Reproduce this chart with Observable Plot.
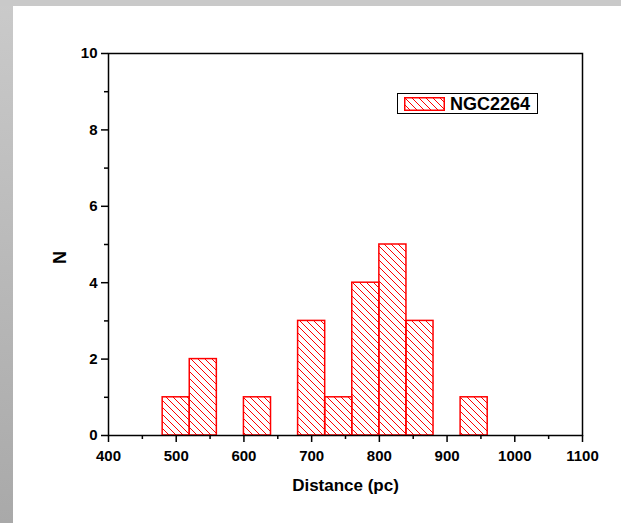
<!DOCTYPE html>
<html>
<head>
<meta charset="utf-8">
<script src="https://cdn.jsdelivr.net/npm/d3@7"></script>
<script src="https://cdn.jsdelivr.net/npm/@observablehq/plot@0.6"></script>
<style>
  html, body { margin: 0; padding: 0; }
  #wrap {
    position: relative; width: 621px; height: 523px; overflow: hidden;
    background: linear-gradient(to bottom, #cacaca, #a9a9a9);
    font-family: "Liberation Sans", Arial, sans-serif;
  }
  #top { position: absolute; left: 0; top: 0; width: 621px; height: 6px; background: #c9c9c9; }
  #panel { position: absolute; left: 13px; top: 6px; width: 608px; height: 517px; background: #fff; }
  #legend {
    position: absolute; left: 384px; top: 87px; width: 139px; height: 19px;
    border: 1px solid #000; background: #fff; box-sizing: content-box;
  }
  #legend svg { position: absolute; left: 6px; top: 3px; }
  #legend span {
    position: absolute; left: 52px; top: 0px; font-size: 18px; font-weight: bold;
    line-height: 20px; color: #000;
  }
</style>
</head>
<body>
<div id="wrap">
  <div id="top"></div>
  <div id="panel"></div>
</div>
<script>
// Histogram bins (distance in pc) and counts
const binStart = [480, 520, 600, 680, 720, 760, 800, 840, 920];
const binEnd   = [520, 560, 640, 720, 760, 800, 840, 880, 960];
const counts   = [1, 2, 1, 3, 1, 4, 5, 3, 1];
const seriesName = "NGC2264";
const xMajor = [400, 500, 600, 700, 800, 900, 1000, 1100];
const xMinor = [450, 550, 650, 750, 850, 950, 1050];
const yMajor = [0, 2, 4, 6, 8, 10];
const yMinor = [1, 3, 5, 7, 9];

const bins = binStart.map((s, i) => ({x1: s, x2: binEnd[i], n: counts[i]}));

const ns = "http://www.w3.org/2000/svg";
const HATCH = 7;      // hatch spacing (px)
const RED = "#ff0000";

// Diagonal ("\") hatch segments clipped to a pixel rectangle
function hatchSegments(X1, X2, Y1, Y2) {
  const segs = [];
  const cMin = Math.floor((X1 - Y2) / HATCH) * HATCH;
  const cMax = Math.ceil((X2 - Y1) / HATCH) * HATCH;
  for (let c = cMin; c <= cMax; c += HATCH) {
    const a = Math.max(X1, Y1 + c), b = Math.min(X2, Y2 + c);
    if (b - a > 0.5) segs.push([a, a - c, b, b - c]);
  }
  return segs;
}
function hatchGroup(segs) {
  const g = document.createElementNS(ns, "g");
  g.setAttribute("stroke", RED);
  g.setAttribute("stroke-width", "1");
  for (const [xa, ya, xb, yb] of segs) {
    const l = document.createElementNS(ns, "line");
    l.setAttribute("x1", xa); l.setAttribute("y1", ya);
    l.setAttribute("x2", xb); l.setAttribute("y2", yb);
    g.appendChild(l);
  }
  return g;
}

const font = "Liberation Sans, Arial, sans-serif";
const chart = Plot.plot({
  width: 608,
  height: 517,
  marginLeft: 95,
  marginRight: 39,
  marginTop: 47,
  marginBottom: 88,
  style: {background: "transparent", fontFamily: font, color: "#000"},
  x: {domain: [400, 1100]},
  y: {domain: [0, 10]},
  marks: [
    Plot.rectY(bins, {
      x1: "x1", x2: "x2", y: "n", fill: "none", stroke: RED, strokeWidth: 1.5,
      render(index, scales, values, dimensions, context, next) {
        const g = next(index, scales, values, dimensions, context);
        const segs = [];
        for (const i of index) {
          const X1 = scales.x(bins[i].x1), X2 = scales.x(bins[i].x2);
          const Y1 = scales.y(bins[i].n), Y2 = scales.y(0);
          segs.push(...hatchSegments(X1, X2, Y1, Y2));
        }
        const wrap = document.createElementNS(ns, "g");
        wrap.appendChild(hatchGroup(segs));
        wrap.appendChild(g);
        return wrap;
      }
    }),
    Plot.frame({stroke: "#000", strokeWidth: 1.5}),
    Plot.axisX({ticks: xMajor, tickFormat: d => String(d), tickSize: 7, tickPadding: 8, fontSize: 15, fontWeight: "bold", label: null, strokeWidth: 1.5}),
    Plot.axisX({ticks: xMinor, tickSize: 4, text: null, label: null, strokeWidth: 1.5}),
    Plot.axisY({ticks: yMajor, tickFormat: d => String(d), tickSize: 7, tickPadding: 4, fontSize: 15, fontWeight: "bold", label: null, strokeWidth: 1.5}),
    Plot.axisY({ticks: yMinor, tickSize: 4, text: null, label: null, strokeWidth: 1.5}),
    Plot.text(["Distance (pc)"], {frameAnchor: "bottom", dy: 50, text: d => d, fontSize: 17, fontWeight: "bold", lineAnchor: "middle", textAnchor: "middle"}),
    Plot.text(["N"], {frameAnchor: "left", dx: -48, dy: 13, text: d => d, fontSize: 18, fontWeight: "bold", rotate: -90, lineAnchor: "middle", textAnchor: "middle"})
  ]
});

chart.style.position = "absolute";
chart.style.left = "0px";
chart.style.top = "0px";
document.getElementById("panel").appendChild(chart);

// Legend
const legend = document.createElement("div");
legend.id = "legend";
const sw = document.createElementNS(ns, "svg");
sw.setAttribute("width", "41");
sw.setAttribute("height", "14");
sw.appendChild(hatchGroup(hatchSegments(0.75, 40.25, 0.75, 13.25)));
const swRect = document.createElementNS(ns, "rect");
swRect.setAttribute("x", "0.75"); swRect.setAttribute("y", "0.75");
swRect.setAttribute("width", "39.5"); swRect.setAttribute("height", "12.5");
swRect.setAttribute("fill", "none"); swRect.setAttribute("stroke", RED); swRect.setAttribute("stroke-width", "1.5");
sw.appendChild(swRect);
legend.appendChild(sw);
const lbl = document.createElement("span");
lbl.textContent = seriesName;
legend.appendChild(lbl);
document.getElementById("panel").appendChild(legend);
</script>
</body>
</html>
